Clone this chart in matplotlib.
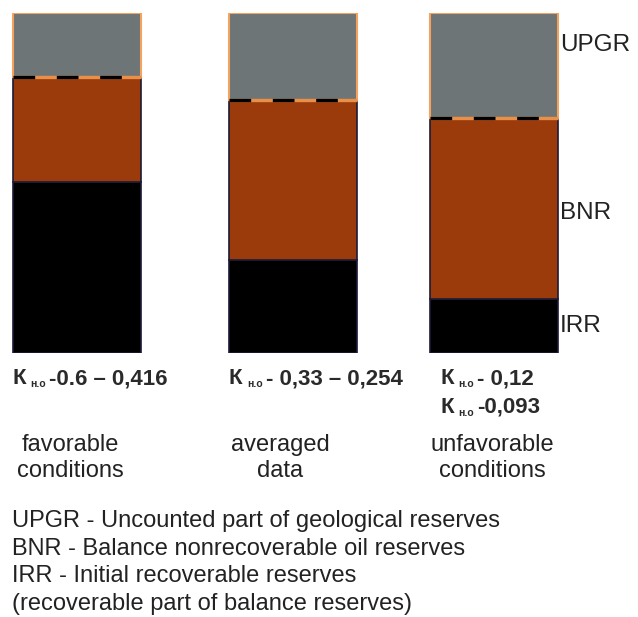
import matplotlib.pyplot as plt
import numpy as np

# reserve shares (% of geological reserves), bottom to top
conditions = ['favorable\nconditions', 'averaged\ndata', 'unfavorable\nconditions']
irr = [50.3, 27.4, 15.9]
bnr = [30.9, 47.0, 53.2]
upgr = [18.8, 25.6, 30.9]
k_lines = [['-0.6 \u2013 0,416'], ['- 0,33 \u2013 0,254'], ['- 0,12', '-0,093']]
series_labels = ['UPGR', 'BNR', 'IRR']
notes = ['UPGR - Uncounted part of geological reserves',
         'BNR - Balance nonrecoverable oil reserves',
         'IRR - Initial recoverable reserves',
         '(recoverable part of balance reserves)']

W, H = 638, 617
fig = plt.figure(figsize=(W / 100, H / 100), dpi=100)

# bars axes: x in pixels, y in percent
ax = fig.add_axes([0, 1 - 353 / H, 1, 340 / H])
ax.set_xlim(0, W)
ax.set_ylim(0, 100)
ax.axis('off')

xc = np.array([76.5, 292.5, 494.0])
bw = 128
irr = np.array(irr)
bnr = np.array(bnr)
upgr = np.array(upgr)

ax.bar(xc, irr, bw, color='black', edgecolor='#1c1a35', lw=1.2)
ax.bar(xc, bnr, bw, bottom=irr, color='#9b3a0b', edgecolor='#1c1a35', lw=1.2)
ax.bar(xc, upgr, bw, bottom=irr + bnr, color='#6e7577', edgecolor='#f4a35e', lw=1.5)

# dashed boundary between BNR and UPGR
for x, y in zip(xc, irr + bnr):
    ax.plot([x - bw / 2, x + bw / 2], [y, y], color='#e8904a', lw=2.4, solid_capstyle='butt')
    ax.plot([x - bw / 2, x + bw / 2], [y, y], color='black', lw=2.4,
            dashes=(6.5, 6.5), dash_capstyle='butt')

# labels to the right of last bar
label_y = [45, 213, 326]
for lab, py in zip(series_labels, label_y):
    ax.text(560, 100 - (py - 13) / 3.4, lab, fontsize=17.5, color='#222222',
            family='Liberation Sans', va='center', ha='left')

# K coefficient lines under bars
kx = [12, 229, 440]
kfont = dict(family=['Liberation Sans', 'DejaVu Sans'], weight='bold', color='#2a2a2a')
for i, lines in enumerate(k_lines):
    for j, s in enumerate(lines):
        y = 1 - (379 + 28.5 * j) / H
        fig.text(kx[i] / W, y, 'К', fontsize=16, va='center', **kfont)
        fig.text((kx[i] + 18) / W, y - 5 / H, 'н.о', fontsize=7.5, va='center', **kfont)
        fig.text((kx[i] + 37) / W, y, s, fontsize=16, va='center', **kfont)

# condition names
cx = [70, 280, 492]
for x, name in zip(cx, conditions):
    fig.text(x / W, 1 - 458 / H, name, fontsize=17, color='#222222',
             family='Liberation Sans', ha='center', va='center', linespacing=1.2)

# notes
for i, s in enumerate(notes):
    fig.text(12 / W, 1 - (521 + 27.7 * i) / H, s, fontsize=17, color='#222222',
             family='Liberation Sans', va='center', ha='left')

fig.savefig('out.png', dpi=100)
